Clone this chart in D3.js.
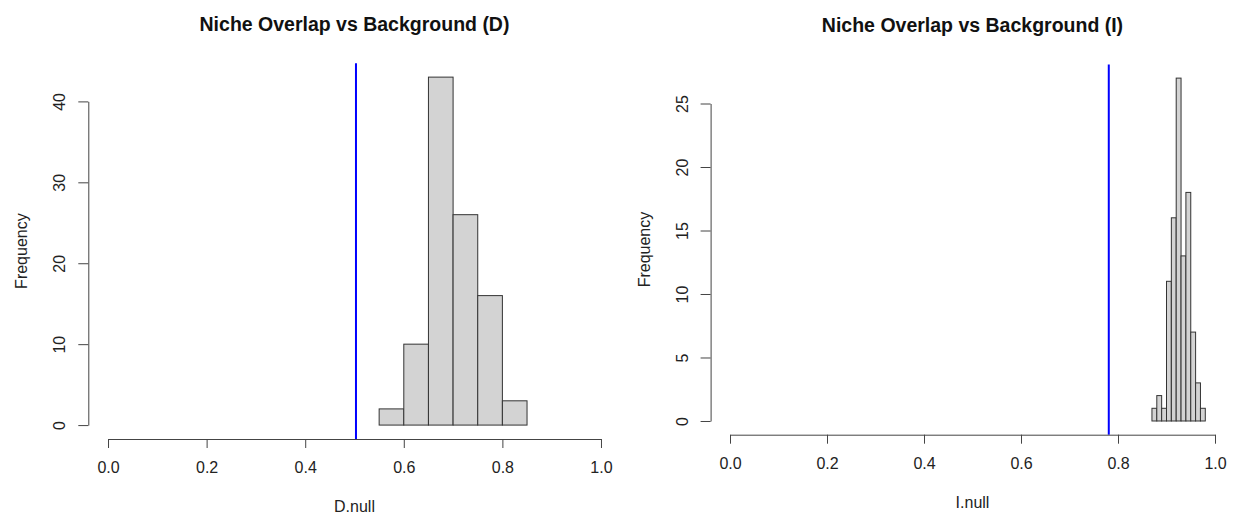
<!DOCTYPE html>
<html>
<head>
<meta charset="utf-8">
<script src="https://cdn.jsdelivr.net/npm/d3@7"></script>
<style>
  body { margin: 0; background: #fff; }
  svg { display: block; font-family: "Liberation Sans", Arial, sans-serif; }
</style>
</head>
<body>
<svg width="1235" height="516"></svg>
<script>
// histogram of D.null, bins of 0.05
var dBreaks = [0.55, 0.60, 0.65, 0.70, 0.75, 0.80, 0.85];
var dCounts = [2, 10, 43, 26, 16, 3];
var dObserved = 0.503;
var dTicksY = [0, 10, 20, 30, 40];

// histogram of I.null, bins of 0.01
var iBreaks = [0.87, 0.88, 0.89, 0.90, 0.91, 0.92, 0.93, 0.94, 0.95, 0.96, 0.97, 0.98];
var iCounts = [1, 2, 1, 11, 16, 27, 13, 18, 7, 3, 1];
var iObserved = 0.781;
var iTicksY = [0, 5, 10, 15, 20, 25];

var ticksX = [0, 0.2, 0.4, 0.6, 0.8, 1.0];

var svg = d3.select('svg');

function panel(opt) {
        var g = svg.append('g');
        var ymax = d3.max(opt.counts);

        // R style usr: 4% extension on each side
        var x = d3.scaleLinear().domain([-0.04, 1.04]).range([opt.left, opt.right]);
        var y = d3.scaleLinear().domain([-0.04 * ymax, 1.04 * ymax]).range([opt.bottom, opt.top]);

        var bins = opt.counts.map(function (c, i) {
                return { x0: opt.breaks[i], x1: opt.breaks[i + 1], n: c };
        });

        g.selectAll('rect.bar').data(bins).enter().append('rect')
                .attr('class', 'bar')
                .attr('x', function (d) { return x(d.x0); })
                .attr('width', function (d) { return x(d.x1) - x(d.x0); })
                .attr('y', function (d) { return y(d.n); })
                .attr('height', function (d) { return y(0) - y(d.n); })
                .attr('fill', '#d3d3d3').attr('stroke', '#333').attr('stroke-width', 1);

        // observed value
        g.append('line')
                .attr('x1', x(opt.observed)).attr('x2', x(opt.observed))
                .attr('y1', opt.top).attr('y2', opt.bottom)
                .attr('stroke', '#0000ff').attr('stroke-width', 2);

        // x axis, only between 0 and 1 like base graphics
        var xa = x.copy().domain([0, 1]).range([x(0), x(1)]);
        var gx = g.append('g').attr('transform', 'translate(0,' + opt.bottom + ')')
                .call(d3.axisBottom(xa).tickValues(ticksX).tickFormat(d3.format('.1f'))
                        .tickSize(9).tickSizeOuter(0).tickPadding(14));
        gx.selectAll('text').attr('font-size', 16).attr('fill', '#222').style('font-family', null);

        var ya = y.copy().domain([0, d3.max(opt.ticksY)]).range([y(0), y(d3.max(opt.ticksY))]);
        var gy = g.append('g').attr('transform', 'translate(' + opt.left + ',0)')
                .call(d3.axisLeft(ya).tickValues(opt.ticksY).tickSize(10).tickSizeOuter(0));
        gy.selectAll('text')
                .attr('x', null).attr('dy', null)
                .attr('transform', 'translate(-23,0) rotate(-90)')
                .attr('text-anchor', 'middle')
                .attr('font-size', 16).attr('fill', '#222').style('font-family', null);

        g.selectAll('.domain, .tick line').attr('stroke', '#444');
        g.selectAll('g.tick, g').attr('font-family', null);

        var cx = (opt.left + opt.right) / 2;
        var cy = (opt.top + opt.bottom) / 2;

        g.append('text').attr('x', cx).attr('y', opt.top - 32)
                .attr('text-anchor', 'middle').attr('font-size', 19.5).attr('font-weight', 'bold')
                .attr('fill', '#111').text(opt.title);

        g.append('text').attr('x', cx).attr('y', opt.bottom + 73)
                .attr('text-anchor', 'middle').attr('font-size', 16).attr('fill', '#222')
                .text(opt.xlab);

        g.append('text').attr('transform', 'translate(' + (opt.left - 61) + ',' + cy + ') rotate(-90)')
                .attr('text-anchor', 'middle').attr('font-size', 16).attr('fill', '#222')
                .text('Frequency');
}

panel({
        breaks: dBreaks, counts: dCounts, observed: dObserved, ticksY: dTicksY,
        title: 'Niche Overlap vs Background (D)', xlab: 'D.null',
        left: 88.3, right: 620.7, top: 63.2, bottom: 439
});

panel({
        breaks: iBreaks, counts: iCounts, observed: iObserved, ticksY: iTicksY,
        title: 'Niche Overlap vs Background (I)', xlab: 'I.null',
        left: 710.6, right: 1234.4, top: 64.4, bottom: 434.7
});
</script>
</body>
</html>
